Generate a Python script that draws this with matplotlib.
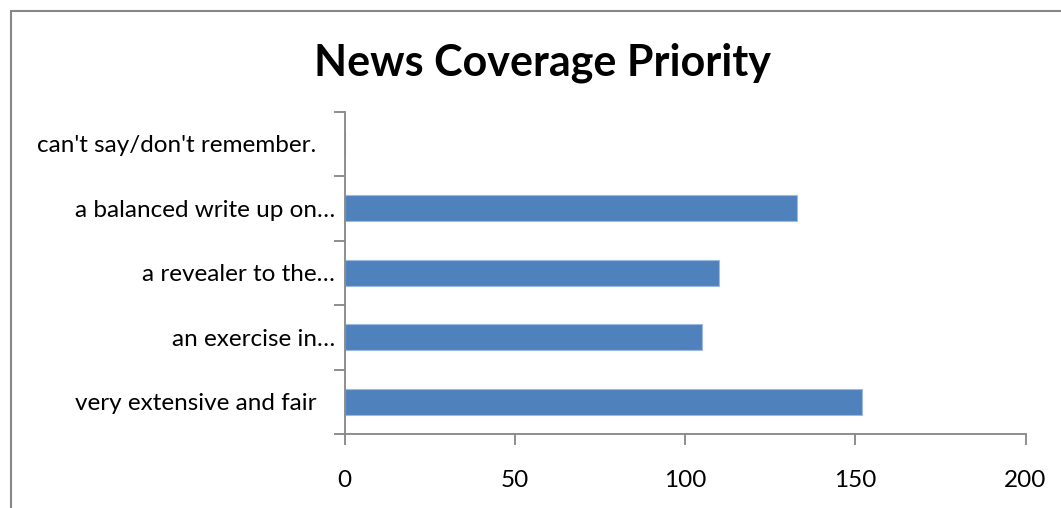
import matplotlib
matplotlib.use("Agg")
import matplotlib.pyplot as plt
from matplotlib.patches import Rectangle

plt.rcParams['font.family'] = ['Lato', 'DejaVu Sans']

categories = [
    "very extensive and fair   ",
    "an exercise in\u2026",
    "a revealer to the\u2026",
    "a balanced write up on\u2026",
    "can't say/don't remember.   ",
]
counts = [152, 105, 110, 133, 0]
x_ticks = [0, 50, 100, 150, 200]

BAR_COLOR = "#4F81BD"
AXIS_COLOR = "#868686"

fig = plt.figure(figsize=(10.61, 5.08), dpi=100)

# outer chart frame
fig.patches.append(Rectangle((10.5 / 1061, -0.1), 1.2, 1.1 - 11.5 / 508,
                             transform=fig.transFigure, fill=False,
                             edgecolor="#878787", linewidth=1.5))

ax = fig.add_axes([344.5 / 1061, 1 - 434 / 508, 681 / 1061, 322.5 / 508])

ypos = list(range(len(categories)))
ax.barh(ypos, counts, height=0.4, color=BAR_COLOR,
        edgecolor="#9DB9DE", linewidth=0.8)

ax.set_xlim(0, 200)
ax.set_ylim(-0.5, len(categories) - 0.5)
ax.set_xticks(x_ticks)
ax.set_xticklabels([str(v) for v in x_ticks])

ax.set_yticks(ypos)
ax.set_yticklabels(categories)
ax.set_yticks([i - 0.5 for i in range(len(categories) + 1)], minor=True)
ax.tick_params(axis='y', which='major', length=0, pad=7, labelsize=17.5)
ax.tick_params(axis='y', which='minor', length=8, width=1.3, color=AXIS_COLOR,
               direction='out')
ax.tick_params(axis='x', length=8, width=1.3, color=AXIS_COLOR,
               direction='out', pad=18, labelsize=17.5)

for side in ("top", "right"):
    ax.spines[side].set_visible(False)
for side in ("left", "bottom"):
    ax.spines[side].set_color(AXIS_COLOR)
    ax.spines[side].set_linewidth(1.3)

fig.text(542 / 1061, 1 - 63 / 508, "News Coverage Priority",
         ha="center", va="center", fontsize=31, fontweight="bold")

fig.savefig("out.png", dpi=100)
